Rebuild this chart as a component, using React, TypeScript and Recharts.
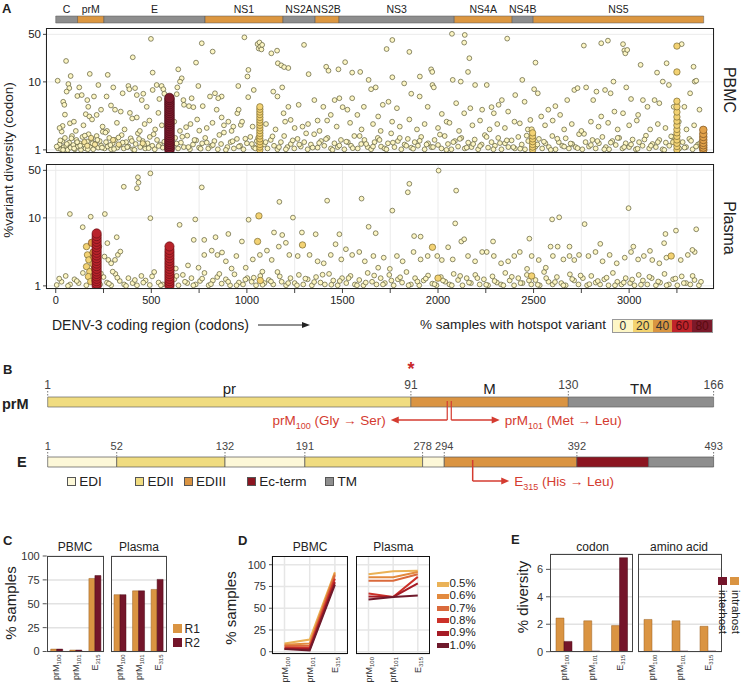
import React from 'react'
import {
  ScatterChart, Scatter, XAxis, YAxis, CartesianGrid, BarChart, Bar, LabelList,
  LineChart, Line, ReferenceArea, ReferenceLine, ReferenceDot
} from 'recharts'

const FONT = '"Liberation Sans", Arial, Helvetica, sans-serif'
const RED = '#d43b30'
const ORANGE = '#da9442'
const MAROON = '#74152a'

// ---------- panel A ----------
const geneNames = ['C', 'prM', 'E', 'NS1', 'NS2A', 'NS2B', 'NS3', 'NS4A', 'NS4B', 'NS5']
const geneEnds = [114, 252, 781, 1189, 1357, 1482, 2085, 2388, 2498, 3390]
const codonTicks = [0, 250, 500, 750, 1000, 1250, 1500, 1750, 2000, 2250, 2500, 2750, 3000, 3250]
const diversityTicks = [1, 10, 50]

const pbmcHigh = [[10,10.4],[54,20.3],[78,12.2],[178,13.1],[272,12.7],[403,23],[498,42.9],[507,13.7],[641,15.3],[659,11.3],[650,10.1],[734,19.2],[764,37],[821,27.9],[987,45.2],[1003,12],[1008,15],[1056,36],[1062,31],[1066,38],[1070,33],[1076,30],[1080,35],[1128,26.3],[1158,28.8],[1162,18.8],[1180,17.5],[1195,16.5],[1217,16],[1299,35],[1323,13],[1415,16.7],[1427,14.6],[1479,15.3],[1514,19.5],[1551,13.7],[1593,14],[1637,10.7],[1731,30.4],[1761,41.3],[1761,11.7],[1850,27.6],[1905,12],[1964,15.3],[1970,14],[2073,50.9],[2077,10.7],[2119,10.1],[2140,49],[2137,37.8],[2164,22.3],[2157,14],[2362,43.3],[2441,10.7],[2510,19.2],[2763,34.2],[2854,37],[2889,40.4],[2918,10.1],[2968,35.9],[2975,29],[2980,26.3],[2990,29.5],[3060,17.8],[3146,13.7],[3176,10.1],[3196,18.8],[3275,35.9],[3337,16.7],[3343,10.1],[3351,10.4]]
const pbmcMid = [[66,9.3],[71,8.1],[57,7.2],[39,5.1],[45,4.6],[48,3.3],[74,2.46],[36,2.25],[31,1.86],[113,6.2],[123,8.3],[165,5.4],[170,4.3],[157,3.35],[176,3.1],[214,3.27],[223,9],[136,6.4],[200,6.1],[266,6.1],[237,3.9],[289,4.5],[301,8.3],[310,3.9],[340,3.66],[350,6.8],[380,8.7],[388,3.5],[385,7.8],[415,8.1],[424,6.4],[424,3.0],[450,5.4],[458,6.7],[476,4.3],[507,7.6],[528,9.0],[542,5.6],[537,3.5],[554,8.7],[563,7.8],[568,6.7],[633,6.6],[636,8.3],[668,5.4],[671,4.6],[682,2.16],[697,4.4],[711,5.75],[720,4.25],[746,8.7],[769,4.4],[751,1.92],[807,6.1],[833,6.8],[842,3.9],[868,6.1],[850,5.75],[868,3.0],[903,2.6],[929,2.2],[950,3.46],[955,8.7],[968,2.33],[957,3.9],[1007,5.96],[1036,7.6],[1138,7.2],[1160,6.1],[1185,8.3],[1192,3.46],[1217,4.3],[1229,2.76],[1271,4.6],[1291,2.2],[1353,5.4],[1370,2.7],[1400,4.3],[1439,3.27],[1459,5.4],[1484,5.75],[1501,4.25],[1526,3.9],[1551,5.75],[1578,3.27],[1612,4.3],[1650,7.8],[1674,8.3],[1687,3.1],[1711,4.6],[1741,5.1],[1785,4.1],[1823,9.5],[1860,6.7],[1904,6.1],[1946,4.3],[1971,9],[1978,8.3],[2020,3.38],[2045,2.6],[2095,4.86],[2137,3.46],[2169,4.1],[2194,9],[2231,3.9],[2255,9],[2280,4.25],[2292,3.46],[2317,4.6],[2334,5.4],[2367,3.66],[2404,6.4],[2428,2.46],[2453,5.1],[2483,2.76],[2503,7.8],[2522,6.8],[2540,3.1],[2577,3.9],[2614,4.4],[2639,3.27],[2676,5.4],[2713,7.6],[2730,8.1],[2775,8.3],[2812,5.4],[2829,7.2],[2854,3.1],[2874,7.6],[2903,6.8],[2923,3.66],[2968,3.46],[2985,8.3],[3010,5.6],[3047,3.27],[3072,5.4],[3096,4.3],[3133,5.4],[3158,4.86],[3208,9],[3233,4.3],[3289,4.3],[3319,6.8],[3368,3.9],
  [20,2.1],[95,2.6],[105,1.9],[145,2.3],[190,2.8],[245,2.2],[260,1.8],[320,2.5],[360,2.0],[400,2.9],[440,1.9],[465,2.4],[490,2.7],[520,2.0],[555,2.3],[620,2.6],[650,1.9],[705,2.4],[740,2.8],[790,2.1],[820,2.5],[880,2.3],[920,1.9],[975,2.6],[1030,2.2],[1100,2.4],[1150,2.0],[1200,2.6],[1250,2.1],[1320,2.4],[1380,1.9],[1420,2.7],[1470,2.2],[1540,2.5],[1600,2.0],[1660,2.4],[1700,1.9],[1760,2.6],[1800,2.2],[1850,2.8],[1890,2.0],[1930,2.4],[2000,2.1],[2060,2.5],[2110,1.9],[2180,2.3],[2220,2.7],[2270,2.0],[2310,2.4],[2350,2.1],[2400,2.6],[2470,2.0],[2560,2.3],[2600,2.7],[2660,2.0],[2700,2.4],[2750,1.9],[2800,2.6],[2840,2.2],[2890,2.5],[2940,2.0],[3000,2.3],[3040,2.7],[3110,2.0],[3150,2.4],[3190,2.1],[3260,2.6],[3300,2.0],[3340,2.3]]
const pbmcLow = [[12,1.05],[20,1.2],[28,1.02],[35,1.35],[42,1.1],[48,1.5],[55,1.15],[62,1.0],[70,1.28],[78,1.08],[85,1.6],[92,1.18],[100,1.02],[108,1.4],[116,1.12],[125,1.25],[132,1.0],[140,1.55],[148,1.2],[156,1.05],[164,1.33],[172,1.7],[180,1.1],[188,1.45],[196,1.02],[205,1.22],[214,1.6],[222,1.08],[230,1.35],[238,1.15],[246,1.85],[255,1.05],[263,1.3],[272,1.12],[280,1.5],[290,1.02],[298,1.25],[310,1.4],[322,1.08],[334,1.18],[345,1.65],[356,1.05],[368,1.3],[380,1.12],[392,1.48],[405,1.02],[418,1.22],[430,1.75],[442,1.1],[455,1.35],[468,1.05],[480,1.25],[492,1.55],[505,1.15],[518,1.02],[530,1.4],[545,1.2],[560,1.08],[575,1.3],[612,1.12],[625,1.5],[640,1.05],[655,1.28],[670,1.1],[688,1.62],[702,1.02],[718,1.2],[735,1.38],[750,1.08],[766,1.25],[782,1.5],[798,1.05],[815,1.15],[830,1.35],[848,1.02],[865,1.22],[880,1.8],[898,1.1],[915,1.3],[932,1.05],[948,1.45],[965,1.15],[982,1.02],[1000,1.25],[1018,1.55],[1035,1.1],[1052,1.35],[1090,1.2],[1108,1.05],[1125,1.4],[1142,1.15],[1160,1.02],[1178,1.3],[1195,1.6],[1212,1.1],[1230,1.22],[1248,1.05],[1265,1.45],[1282,1.12],[1300,1.3],[1318,1.02],[1335,1.2],[1352,1.7],[1370,1.08],[1388,1.35],[1405,1.15],[1422,1.5],[1440,1.05],[1458,1.25],[1475,1.1],[1492,1.4],[1510,1.02],[1528,1.3],[1545,1.15],[1562,1.6],[1580,1.05],[1598,1.22],[1615,1.4],[1632,1.1],[1650,1.02],[1668,1.3],[1685,1.5],[1702,1.12],[1720,1.05],[1738,1.25],[1755,1.75],[1772,1.1],[1790,1.35],[1808,1.02],[1825,1.2],[1842,1.45],[1860,1.08],[1878,1.3],[1895,1.15],[1912,1.55],[1930,1.02],[1948,1.25],[1965,1.1],[1982,1.4],[2000,1.18],[2018,1.05],[2035,1.6],[2052,1.22],[2070,1.02],[2088,1.35],[2105,1.12],[2122,1.5],[2140,1.05],[2158,1.28],[2175,1.1],[2192,1.42],[2210,1.02],[2228,1.2],[2245,1.65],[2262,1.08],[2280,1.3],[2298,1.15],[2315,1.5],[2332,1.02],[2350,1.25],[2368,1.1],[2385,1.38],[2402,1.05],[2420,1.55],[2438,1.2],[2455,1.02],[2472,1.35],[2510,1.12],[2528,1.45],[2545,1.05],[2562,1.25],[2580,1.1],[2598,1.6],[2615,1.02],[2632,1.3],[2650,1.15],[2668,1.48],[2685,1.05],[2702,1.22],[2720,1.1],[2738,1.7],[2755,1.02],[2772,1.3],[2790,1.12],[2808,1.4],[2825,1.05],[2842,1.25],[2860,1.55],[2878,1.1],[2895,1.02],[2912,1.35],[2930,1.18],[2948,1.5],[2965,1.05],[2982,1.25],[3000,1.1],[3018,1.42],[3035,1.02],[3052,1.3],[3070,1.15],[3088,1.62],[3105,1.05],[3122,1.22],[3140,1.1],[3158,1.4],[3175,1.02],[3192,1.28],[3210,1.15],[3228,1.55],[3262,1.05],[3280,1.3],[3298,1.1],[3315,1.45],[3332,1.02],[3360,1.2],[3378,1.08]]
const pbmcLowExtra = [[5,1.12],[24,1.38],[38,1.0],[58,1.22],[82,1.48],[96,1.05],[112,1.3],[128,1.15],[152,1.62],[168,1.02],[192,1.25],[218,1.4],[242,1.08],[268,1.9],[286,1.18],[305,1.03],[328,1.52],[350,1.28],[374,1.1],[398,1.35],[412,1.0],[436,1.45],[462,1.2],[486,1.06],[512,1.7],[538,1.14],[568,1.32],[606,1.02],[632,1.24],[662,1.56],[694,1.1],[726,1.4],[758,1.04],[790,1.28],[822,1.18],[856,1.66],[890,1.0],[925,1.34],[958,1.12],[992,1.46],[1026,1.22],[1044,1.05],[1098,1.3],[1134,1.58],[1168,1.1],[1204,1.02],[1240,1.38],[1274,1.2],[1310,1.75],[1344,1.08],[1378,1.26],[1414,1.44],[1448,1.0],[1484,1.16],[1520,1.32],[1554,1.06],[1590,1.6],[1624,1.22],[1660,1.12],[1694,1.4],[1730,1.02],[1764,1.28],[1800,1.5],[1834,1.15],[1870,1.04],[1904,1.36],[1940,1.2],[1974,1.1],[2010,1.68],[2044,1.0],[2080,1.3],[2114,1.45],[2150,1.08],[2184,1.22],[2220,1.14],[2254,1.55],[2290,1.02],[2324,1.26],[2360,1.38],[2394,1.1],[2430,1.04],[2464,1.62],[2520,1.2],[2554,1.32],[2590,1.0],[2624,1.46],[2660,1.12],[2694,1.24],[2730,1.06],[2764,1.72],[2800,1.18],[2834,1.35],[2870,1.02],[2904,1.28],[2940,1.5],[2974,1.1],[3010,1.2],[3044,1.04],[3080,1.42],[3114,1.15],[3150,1.3],[3184,1.0],[3220,1.58],[3254,1.22],[3290,1.08],[3324,1.36],[3350,1.12],[3372,1.26]]
const pbmcE315Div = [1.0,1.07,1.15,1.23,1.32,1.42,1.53,1.65,1.78,1.92,2.07,2.23,2.4,2.58,2.78,3.0,3.23,3.48,3.75,4.04,4.35,4.7,5.05,5.45,5.8]
const pbmcNs1Div = [1.0,1.1,1.2,1.32,1.45,1.6,1.75,1.92,2.1,2.3,2.52,2.75,3.0,3.3,3.6,3.95,4.3]
const pbmcNs4bDiv = [1.0,1.1,1.2,1.32,1.45,1.6,1.78]
const pbmcNs5Div = [1.0,1.12,1.25,1.4,1.58,1.78,2.0,2.3,2.65,3.05,3.6,4.3,5.2,14,33.6]
const pbmcNs5EndDiv = [1.0,1.08,1.17,1.27,1.4,1.55,1.72,1.97]
const pbmcPale = [[150,1.3],[165,1.15],[185,1.5],[205,1.2],[300,1.4],[330,1.2],[455,1.25],[1060,1.5],[2490,2.0],[3230,1.3]]

const plasmaHigh = [[74,11.4],[183,10.4],[257,11.4],[141,7.3],[319,5.2],[356,28.7],[425,27.3],[430,39.6],[433,33],[495,45.2],[495,9.9],[648,7.9],[730,9.5],[764,28.1],[722,4.75],[777,4.75],[836,5.2],[903,5.8],[1009,9.4],[1142,6.1],[1170,17.2],[1185,5.6],[1241,10.1],[1288,6.1],[1360,5.75],[1420,17.9],[1484,5.75],[1518,3.46],[1600,19.2],[1637,7.4],[1674,5.95],[1761,12.8],[1842,23.8],[1850,31.7],[1875,5.4],[1909,5.3],[2003,49.6],[2095,25.2],[2090,8.3],[2122,4.5],[2137,4.85],[2288,4.5],[2478,4.95],[2597,9.5],[2634,10.2],[2589,3.78],[2688,3.78],[2767,8.1],[2849,4.15],[2997,13.9],[3022,3.78],[3109,3.27],[3183,4.25],[3190,5.8],[3245,6.5],[3351,6.8],[3331,3.38]]
const plasmaMid = [[222,1.76],[228,3.78],[255,2.7],[270,4.25],[275,2.41],[290,2.15],[298,1.62],[310,2.41],[325,2.86],[338,3.2],[628,1.8],[692,2.0],[747,1.85],[777,2.85],[816,3.3],[846,2.85],[870,3.1],[890,2.3],[920,1.8],[945,2.75],[974,4.5],[994,1.85],[1031,2.45],[1068,2.85],[1081,1.62],[1105,3.3],[1130,2.41],[1167,3.78],[1204,4.3],[1222,2.85],[1266,2.75],[1328,2.85],[1370,2.3],[1402,2.15],[1439,2.85],[1464,4.1],[1494,2.45],[1551,2.85],[1588,3.15],[1617,2.3],[1662,2.75],[1687,1.85],[1716,2.6],[1748,1.78],[1785,2.75],[1815,2.3],[1872,3.15],[1909,2.45],[1946,2.75],[1996,2.75],[2020,2.4],[2053,3.7],[2077,2.45],[2157,2.75],[2194,2.3],[2231,3.15],[2255,3.15],[2292,2.75],[2330,2.15],[2367,2.3],[2399,2.75],[2428,3.15],[2466,1.78],[2490,2.75],[2527,2.4],[2564,1.85],[2601,2.75],[2626,3.78],[2656,2.45],[2688,2.75],[2713,2.4],[2738,2.85],[2787,2.75],[2824,3.15],[2861,2.3],[2898,2.85],[2935,2.15],[2977,2.6],[3010,3.15],[3047,2.45],[3077,2.75],[3121,2.4],[3158,2.15],[3195,2.6],[3270,2.4],[3307,2.85],[3343,3.15]]
const plasmaLow = [[5,1.03],[30,1.15],[52,1.4],[75,1.05],[98,1.25],[120,1.1],[142,1.55],[160,1.02],[232,1.05],[250,1.35],[268,1.12],[290,1.02],[312,1.5],[335,1.18],[358,1.05],[380,1.3],[402,1.1],[425,1.02],[448,1.4],[470,1.2],[492,1.03],[515,1.6],[538,1.12],[560,1.05],[620,1.25],[642,1.02],[665,1.45],[688,1.1],[710,1.3],[732,1.05],[755,1.18],[778,1.55],[800,1.02],[822,1.2],[845,1.35],[868,1.08],[890,1.25],[912,1.02],[935,1.48],[958,1.12],[980,1.05],[1002,1.3],[1025,1.15],[1048,1.02],[1070,1.4],[1092,1.1],[1115,1.22],[1138,1.05],[1160,1.6],[1182,1.15],[1205,1.02],[1228,1.3],[1250,1.1],[1272,1.45],[1295,1.05],[1318,1.25],[1340,1.02],[1362,1.35],[1385,1.12],[1408,1.05],[1430,1.5],[1452,1.2],[1475,1.02],[1498,1.3],[1520,1.1],[1542,1.4],[1565,1.05],[1588,1.22],[1610,1.02],[1632,1.55],[1655,1.15],[1678,1.05],[1700,1.3],[1722,1.1],[1745,1.45],[1768,1.02],[1790,1.25],[1812,1.12],[1835,1.6],[1858,1.05],[1880,1.3],[1902,1.02],[1925,1.2],[1948,1.42],[1970,1.08],[1992,1.02],[2015,1.35],[2038,1.15],[2060,1.05],[2082,1.5],[2105,1.22],[2128,1.02],[2150,1.3],[2172,1.1],[2195,1.45],[2218,1.05],[2240,1.25],[2262,1.02],[2285,1.38],[2308,1.12],[2330,1.05],[2352,1.55],[2375,1.2],[2398,1.02],[2420,1.3],[2442,1.1],[2465,1.45],[2488,1.05],[2510,1.22],[2532,1.02],[2555,1.6],[2578,1.15],[2600,1.05],[2622,1.35],[2645,1.1],[2668,1.02],[2690,1.48],[2712,1.2],[2735,1.05],[2758,1.3],[2780,1.02],[2802,1.4],[2825,1.12],[2848,1.05],[2870,1.25],[2892,1.02],[2915,1.55],[2938,1.15],[2960,1.05],[2982,1.3],[3005,1.1],[3028,1.02],[3050,1.45],[3072,1.2],[3095,1.05],[3118,1.3],[3140,1.02],[3162,1.12],[3185,1.5],[3208,1.05],[3230,1.25],[3252,1.02],[3275,1.38],[3298,1.1],[3320,1.05],[3342,1.22],[3365,1.02]]
const plasmaLowExtra = [[18,1.28],[64,1.0],[110,1.18],[236,1.52],[278,1.08],[322,1.32],[368,1.0],[414,1.22],[458,1.12],[504,1.38],[550,1.02],[632,1.4],[676,1.15],[720,1.02],[766,1.28],[812,1.06],[856,1.5],[902,1.15],[946,1.02],[992,1.24],[1036,1.32],[1082,1.04],[1126,1.16],[1172,1.38],[1216,1.1],[1262,1.02],[1306,1.28],[1352,1.14],[1396,1.46],[1442,1.04],[1486,1.18],[1532,1.3],[1576,1.02],[1622,1.12],[1666,1.42],[1712,1.05],[1756,1.2],[1802,1.34],[1846,1.02],[1892,1.16],[1936,1.28],[1982,1.06],[2026,1.2],[2072,1.02],[2116,1.4],[2162,1.12],[2206,1.3],[2252,1.04],[2296,1.18],[2342,1.02],[2386,1.36],[2432,1.1],[2476,1.2],[2522,1.04],[2566,1.3],[2612,1.14],[2656,1.02],[2702,1.26],[2746,1.42],[2792,1.06],[2836,1.18],[2882,1.32],[2926,1.02],[2972,1.12],[3016,1.24],[3062,1.04],[3106,1.36],[3152,1.16],[3196,1.02],[3242,1.28],[3286,1.1],[3332,1.4],[3376,1.15]]
const plasmaYellow = [[1063,10.7],[1056,4.5],[1291,4.0],[1971,3.7],[3220,2.75],[161,3.78],[166,2.86],[173,2.41],[161,1.92],[178,1.62],[171,1.37],[183,1.16],[195,2.1],[200,1.4],[2000,1.3],[2490,1.4],[1070,1.2]]
const plasmaOrange = [[198,3.1],[203,2.6],[205,1.8],[190,4.3],[208,1.2]]
const plasmaPrmDiv = [1.0,1.08,1.17,1.27,1.38,1.5,1.63,1.78,1.95,2.13,2.33,2.55,2.8,3.07,3.37,3.7,4.05,4.45,4.9,5.4,5.9]
const plasmaE315Div = [1.0,1.08,1.17,1.27,1.38,1.5,1.63,1.78,1.95,2.13,2.33,2.55,2.8,3.07,3.37,3.8]

const hotspotLevels = [0, 20, 40, 60, 80]

// ---------- panel B ----------
const prmNames = ['pr', 'M', 'TM']
const prmStarts = [1, 91, 130]
const prmEnds = [91, 130, 166]
const prmTicks = [1, 91, 130, 166]
const eNames = ['EDI', 'EDII', 'EDI', 'EDII', 'EDI', 'EDIII', 'Ec-term', 'TM']
const eStarts = [1, 52, 132, 191, 278, 294, 392, 445]
const eEnds = [52, 132, 191, 278, 294, 392, 445, 493]
const eTicks = [1, 52, 132, 191, 278, 294, 392, 493]
const eLegend = ['EDI', 'EDII', 'EDIII', 'Ec-term', 'TM']

// ---------- panels C, D, E ----------
const sites = ['prM100', 'prM101', 'E315']
const siteBase = ['prM', 'prM', 'E']
const siteSub = ['100', '101', '315']
const cPbmcR1 = [2.5, 1.5, 76.5]
const cPbmcR2 = [2.5, 1.5, 79.5]
const cPlasmaR1 = [59.5, 63.5, 65]
const cPlasmaR2 = [59.5, 63.5, 75.5]
const thresholds = ['0.5%', '0.6%', '0.7%', '0.8%', '0.9%', '1.0%']
const dPbmc = [[9.5, 14, 91.5], [8, 9.5, 90], [6.5, 7, 88], [4.5, 5, 84], [3.5, 3, 80], [3, 1.5, 77]]
const dPlasma = [[89, 92.5, 93], [85.5, 85.5, 91.5], [81.5, 81.5, 89], [67, 63, 86], [63.5, 63, 78.5], [60, 63, 64.5]]
const eCodonIntra = [2.45, 2.25, 1.9]
const eCodonInter = [0.75, 0.05, 6.85]
const eAaIntra = [2.35, 2.25, 1.85]
const eAaInter = [0.05, 0.05, 0.05]

const levelColors = ['#fdf6c6', '#f3d36f', '#d99540', '#c0242b', '#7b1a2b']
const domainColors: Record<string, string> = {
  pr: '#f0dc80', M: ORANGE, TM: '#8e8e8e', EDI: '#fdf8d8', EDII: '#f0dc80', EDIII: ORANGE, 'Ec-term': '#8b1520'
}
const thresholdColors = ['#eab257', '#e38a3e', '#da6a3c', '#cc3129', '#a61b25', '#6f1a2c']

const toPts = (arr: number[][]) => arr.map(([codon, div]) => ({ codon, div }))
const column = (codon: number, vals: number[]) => vals.map((div) => ({ codon, div }))

const dot = (r: number, fill: string, stroke: string) => (p: any) =>
  <circle cx={p.cx} cy={p.cy} r={r} fill={fill} stroke={stroke} strokeWidth={0.7} />

function Txt({ x, y, children, size = 12, anchor = 'start', weight = 400, color = '#222' }: any) {
  const tx = anchor === 'middle' ? '-50%' : anchor === 'end' ? '-100%' : '0'
  return (
    <div style={{ position: 'absolute', left: x, top: y, transform: `translate(${tx},-50%)`, fontSize: size, fontWeight: weight, color, whiteSpace: 'nowrap', lineHeight: 1 }}>
      {children}
    </div>
  )
}

function RotTxt({ x, y, children, size = 14, down = false }: any) {
  return (
    <div style={{ position: 'absolute', left: x, top: y, transform: `translate(-50%,-50%) rotate(${down ? 90 : -90}deg)`, fontSize: size, color: '#222', whiteSpace: 'nowrap', lineHeight: 1 }}>
      {children}
    </div>
  )
}

function Frame({ x, y, w, h, color = '#222' }: any) {
  return <div style={{ position: 'absolute', left: x, top: y, width: w, height: h, border: `1.5px solid ${color}`, boxSizing: 'border-box', pointerEvents: 'none' }} />
}

function SiteTick(p: any) {
  const i = sites.indexOf(p.payload.value)
  return (
    <g transform={`translate(${p.x + 3.2},${p.y + 1})`}>
      <text transform="rotate(-90)" textAnchor="end" fontSize={9} fill="#333">
        {siteBase[i]}<tspan fontSize={6} dy={2}>{siteSub[i]}</tspan>
      </text>
    </g>
  )
}

function GeneBar() {
  const row: any = { row: 'genome' }
  geneNames.forEach((g, i) => { row[g] = geneEnds[i] - (i === 0 ? 0 : geneEnds[i - 1]) })
  return (
    <div style={{ position: 'absolute', left: 0, top: 0 }}>
      <BarChart width={741} height={24} data={[row]} layout="vertical" barCategoryGap={0}
        margin={{ top: 16, right: 27, bottom: 1, left: 46 }}>
        <XAxis type="number" domain={[-51, 3444]} allowDataOverflow hide />
        <YAxis type="category" dataKey="row" hide />
        {geneNames.map((g, i) => (
          <Bar key={g} dataKey={g} stackId="g" fill={i % 2 === 0 ? '#8e8e8e' : '#dc9741'}
            stroke="#555" strokeWidth={0.5} isAnimationActive={false}>
            <LabelList dataKey={g} position="top" offset={3} formatter={() => g} fontSize={10.5} fill="#222" />
          </Bar>
        ))}
      </BarChart>
    </div>
  )
}

function DiversityPanel({ top, showX, normal, pale, yellow, orange, red, darkred }: any) {
  const h = showX ? 150 : 131
  return (
    <div style={{ position: 'absolute', left: 0, top }}>
      <ScatterChart width={741} height={h} margin={{ top: 0, right: 27, bottom: showX ? 0 : 6, left: 0 }}>
        <CartesianGrid stroke="#ebebeb" />
        <XAxis type="number" dataKey="codon" domain={[-51, 3444]} allowDataOverflow ticks={codonTicks} interval={0}
          height={showX ? 25 : 0} tick={showX ? { fontSize: 11, fill: '#222' } : false}
          tickFormatter={(v: number) => (v % 500 === 0 ? String(v) : '')}
          tickSize={showX ? 4 : 0} tickMargin={3} axisLine={false} tickLine={showX ? { stroke: '#444' } : false} />
        <YAxis type="number" dataKey="div" scale="log" domain={[0.9, 62]} allowDataOverflow ticks={diversityTicks}
          interval={0} width={46} tickSize={3} tickMargin={2} axisLine={false}
          tick={{ fontSize: 11.5, fill: '#222' }} tickLine={{ stroke: '#444' }} />
        <Scatter data={normal} shape={dot(2.4, '#fdf6c4', '#5b5a36')} isAnimationActive={false} />
        <Scatter data={pale} shape={dot(2.6, '#f7e6a0', '#6a6338')} isAnimationActive={false} />
        <Scatter data={yellow} shape={dot(3.2, '#f3d273', '#7a6a30')} isAnimationActive={false} />
        <Scatter data={orange} shape={dot(3.8, '#e2a24a', '#7a5020')} isAnimationActive={false} />
        <Scatter data={red} shape={dot(4.6, '#b9232b', '#6a1015')} isAnimationActive={false} />
        <Scatter data={darkred} shape={dot(4.8, '#7d1a2c', '#4a0d18')} isAnimationActive={false} />
      </ScatterChart>
    </div>
  )
}

const arrowShape = (label: React.ReactNode, anchor: 'start' | 'end') => (p: any) => {
  const { x1, y1, x2, y2 } = p
  const dir = Math.sign(x2 - x1) || 1
  return (
    <g>
      <line x1={x1} y1={y1} x2={x2 - dir * 5} y2={y2} stroke={RED} strokeWidth={1.5} />
      <path d={`M${x2},${y2} L${x2 - dir * 8},${y2 - 3.5} L${x2 - dir * 8},${y2 + 3.5} Z`} fill={RED} />
      <text x={x2 + dir * 5} y={y2} dy="0.35em" textAnchor={anchor} fill={RED} fontSize={13.5}>{label}</text>
    </g>
  )
}

const sub = (base: string, s: string, rest: string) => (
  <>
    <tspan>{base}</tspan><tspan fontSize={9} dy={4}>{s}</tspan><tspan dy={-4}>{rest}</tspan>
  </>
)

function PrmDiagram() {
  const pts = prmTicks.map((aa) => ({ aa, y: 20 }))
  return (
    <div style={{ position: 'absolute', left: 0, top: 359 }}>
      <ScatterChart width={741} height={74} margin={{ top: 18, right: 27.4, bottom: 6, left: 47.7 }}>
        <XAxis type="number" dataKey="aa" orientation="top" domain={[1, 166]} allowDataOverflow ticks={prmTicks}
          interval={0} height={20} tickSize={6} tickMargin={2} axisLine={false}
          tickLine={{ stroke: '#777', strokeDasharray: '1.5 1.5' }} tick={{ fontSize: 12, fill: '#444' }} />
        <YAxis type="number" dataKey="y" domain={[0, 30]} allowDataOverflow hide />
        {prmNames.map((n, i) => (
          <ReferenceArea key={n} x1={prmStarts[i]} x2={prmEnds[i]} y1={20} y2={30} fill={domainColors[n]} fillOpacity={1}
            stroke="#666" strokeWidth={0.7} label={{ value: n, position: 'top', offset: 3, fontSize: 15, fill: '#222' }} />
        ))}
        <ReferenceLine segment={[{ x: 100, y: 26 }, { x: 100, y: 7 }]} stroke={RED} strokeWidth={1.2} />
        <ReferenceLine segment={[{ x: 101, y: 26 }, { x: 101, y: 7 }]} stroke={RED} strokeWidth={1.2} />
        <ReferenceLine segment={[{ x: 100, y: 7 }, { x: 86, y: 7 }]} shape={arrowShape(sub('prM', '100', ' (Gly \u2192 Ser)'), 'end')} />
        <ReferenceLine segment={[{ x: 101, y: 7 }, { x: 113, y: 7 }]} shape={arrowShape(sub('prM', '101', ' (Met \u2192 Leu)'), 'start')} />
        <ReferenceDot x={91} y={58} r={0} ifOverflow="visible"
          label={{ value: '*', position: 'center', fill: '#c8282a', fontSize: 18, fontWeight: 700 }} />
        <Scatter data={pts} shape={() => <g />} isAnimationActive={false} />
      </ScatterChart>
    </div>
  )
}

function EDiagram() {
  const pts = eTicks.map((aa) => ({ aa, y: 23 }))
  return (
    <div style={{ position: 'absolute', left: 0, top: 438.7 }}>
      <ScatterChart width={741} height={57} margin={{ top: 2, right: 27.4, bottom: 6, left: 47.7 }}>
        <XAxis type="number" dataKey="aa" orientation="top" domain={[1, 493]} allowDataOverflow ticks={eTicks}
          interval={0} height={16} tickSize={5} tickMargin={2} axisLine={false}
          tickLine={{ stroke: '#777', strokeDasharray: '1.5 1.5' }} tick={{ fontSize: 11, fill: '#444' }} />
        <YAxis type="number" dataKey="y" domain={[0, 33]} allowDataOverflow hide />
        {eNames.map((n, i) => (
          <ReferenceArea key={i} x1={eStarts[i]} x2={eEnds[i]} y1={23} y2={33} fill={domainColors[n]} fillOpacity={1}
            stroke="#555" strokeWidth={0.7} />
        ))}
        <ReferenceLine segment={[{ x: 315, y: 30 }, { x: 315, y: 9 }]} stroke={RED} strokeWidth={1.5} />
        <ReferenceLine segment={[{ x: 315, y: 9 }, { x: 342, y: 9 }]} shape={arrowShape(sub('E', '315', ' (His \u2192 Leu)'), 'start')} />
        <Scatter data={pts} shape={() => <g />} isAnimationActive={false} />
      </ScatterChart>
    </div>
  )
}

function SiteBars({ left, top, width, plotH, yWidth, domain, ticks, a, b, aName, bName, barSize }: any) {
  const data = sites.map((s, i) => ({ site: s, [aName]: a[i], [bName]: b[i] }))
  return (
    <div style={{ position: 'absolute', left, top: top - 8 }}>
      <BarChart width={width} height={plotH + 44} data={data} margin={{ top: 8, right: 0, bottom: 0, left: 0 }}
        barGap={0} barSize={barSize}>
        <CartesianGrid vertical={false} stroke="#e2e2e2" strokeWidth={1.5} />
        <XAxis dataKey="site" tick={<SiteTick />} tickLine={false} axisLine={false} height={36} interval={0} tickSize={0} />
        <YAxis domain={domain} allowDataOverflow ticks={ticks} interval={0} hide={!yWidth} width={yWidth}
          tickSize={4} tickMargin={3} axisLine={false} tick={{ fontSize: 11, fill: '#333' }} tickLine={{ stroke: '#555' }} />
        <Bar dataKey={aName} fill={ORANGE} stroke="#9a6224" strokeWidth={0.5} isAnimationActive={false} />
        <Bar dataKey={bName} fill={MAROON} stroke="#4a0c18" strokeWidth={0.5} isAnimationActive={false} />
      </BarChart>
    </div>
  )
}

function ThresholdLines({ left, width, yWidth, values }: any) {
  const data = sites.map((s, i) => {
    const r: any = { site: s }
    thresholds.forEach((t, k) => { r[t] = values[k][i] })
    return r
  })
  return (
    <div style={{ position: 'absolute', left, top: 556 }}>
      <LineChart width={width} height={134} data={data} margin={{ top: 0, right: 0, bottom: 0, left: 0 }}>
        <CartesianGrid stroke="#e6e6e6" strokeWidth={1.5} />
        <XAxis dataKey="site" padding={{ left: 12.5, right: 12.5 }} tick={<SiteTick />} tickLine={false}
          axisLine={false} height={36} interval={0} tickSize={0} />
        <YAxis domain={[-2.6, 110]} allowDataOverflow ticks={[0, 25, 50, 75, 100]} interval={0} hide={!yWidth}
          width={yWidth} tickSize={3} tickMargin={3} axisLine={false} tick={{ fontSize: 11, fill: '#333' }} tickLine={{ stroke: '#555' }} />
        {thresholds.map((t, k) => (
          <Line key={t} dataKey={t} stroke={thresholdColors[k]} strokeWidth={2} dot={false} isAnimationActive={false} />
        ))}
      </LineChart>
    </div>
  )
}

export default function App() {
  const pbmcNormal = toPts([...pbmcLow, ...pbmcLowExtra, ...pbmcMid, ...pbmcHigh])
  const plasmaNormal = toPts([...plasmaLow, ...plasmaLowExtra, ...plasmaMid, ...plasmaHigh])
  return (
    <div style={{ position: 'absolute', left: 0, top: 0, width: 741, height: 683, background: '#fff', overflow: 'hidden', fontFamily: FONT, color: '#222' }}>
      {/* A */}
      <Txt x={2} y={8} size={13} weight={700}>A</Txt>
      <GeneBar />
      <DiversityPanel top={28} showX={false} normal={pbmcNormal} pale={toPts(pbmcPale)}
        yellow={[...column(1068, pbmcNs1Div), ...column(2495, pbmcNs4bDiv), ...column(3250, pbmcNs5Div)]}
        orange={column(3388, pbmcNs5EndDiv)} red={[]} darkred={column(595, pbmcE315Div)} />
      <DiversityPanel top={164} showX={true} normal={plasmaNormal} pale={[]} yellow={toPts(plasmaYellow)}
        orange={toPts(plasmaOrange)} red={[...column(214, plasmaPrmDiv), ...column(595, plasmaE315Div)]} darkred={[]} />
      <Frame x={46} y={28} w={668} h={125} />
      <Frame x={46} y={164} w={668} h={125} />
      <RotTxt x={9} y={160} size={13.5}>%variant diversity (codon)</RotTxt>
      <RotTxt x={729} y={90} size={16} down>PBMC</RotTxt>
      <RotTxt x={729} y={228} size={16} down>Plasma</RotTxt>
      <Txt x={52} y={325} size={14}>DENV-3 coding region (codons)</Txt>
      <svg style={{ position: 'absolute', left: 256, top: 319 }} width={60} height={12}>
        <line x1={2} y1={6} x2={48} y2={6} stroke="#222" strokeWidth={1.2} />
        <path d="M54,6 L46,3 L46,9 Z" fill="#222" />
      </svg>
      <Txt x={606} y={325} size={13.5} anchor="end">% samples with hotspot variant</Txt>
      <div style={{ position: 'absolute', left: 612, top: 319, display: 'flex', border: '0.5px solid #999' }}>
        {hotspotLevels.map((l, i) => (
          <div key={l} style={{ width: 19.8, height: 12, background: levelColors[i], fontSize: 12, lineHeight: '12px', textAlign: 'center', color: i >= 3 ? '#5a0a10' : '#333' }}>{l}</div>
        ))}
      </div>

      {/* B */}
      <Txt x={3} y={369} size={13} weight={700}>B</Txt>
      <Txt x={2} y={404} size={14.5} weight={700}>prM</Txt>
      <Txt x={17} y={462} size={14.5} weight={700}>E</Txt>
      <PrmDiagram />
      <EDiagram />
      {eLegend.map((n, i) => {
        const bx = [66.7, 135, 183.5, 246.7, 325][i]
        return (
          <React.Fragment key={n}>
            <div style={{ position: 'absolute', left: bx, top: 477, width: 9, height: 9, background: domainColors[n], border: '0.8px solid #555', boxSizing: 'border-box' }} />
            <Txt x={bx + 12.5} y={481.5} size={13.5}>{n}</Txt>
          </React.Fragment>
        )
      })}

      {/* C */}
      <Txt x={3} y={539.5} size={13} weight={700}>C</Txt>
      <Txt x={75} y={547} size={12} anchor="middle">PBMC</Txt>
      <Txt x={139} y={547} size={12} anchor="middle">Plasma</Txt>
      <RotTxt x={10} y={603} size={15}>% samples</RotTxt>
      <SiteBars left={0} top={556} width={104} plotH={95.5} yWidth={46.7} domain={[0, 100]} ticks={[0, 25, 50, 75, 100]}
        a={cPbmcR1} b={cPbmcR2} aName="R1" bName="R2" barSize={6} />
      <SiteBars left={111} top={556} width={55.7} plotH={95.5} yWidth={0} domain={[0, 100]} ticks={[0, 25, 50, 75, 100]}
        a={cPlasmaR1} b={cPlasmaR2} aName="R1" bName="R2" barSize={6} />
      <Frame x={46.7} y={556} w={57.3} h={96} color="#444" />
      <Frame x={111} y={556} w={55.7} h={96} color="#444" />
      <div style={{ position: 'absolute', left: 172.7, top: 624, width: 9, height: 9, background: ORANGE }} />
      <Txt x={184.5} y={628.5} size={12}>R1</Txt>
      <div style={{ position: 'absolute', left: 172.7, top: 638.3, width: 9, height: 9, background: MAROON }} />
      <Txt x={184.5} y={643} size={12}>R2</Txt>

      {/* D */}
      <Txt x={238} y={539.5} size={13} weight={700}>D</Txt>
      <Txt x={310} y={547} size={12} anchor="middle">PBMC</Txt>
      <Txt x={393.3} y={547} size={12} anchor="middle">Plasma</Txt>
      <RotTxt x={230} y={608} size={15}>% samples</RotTxt>
      <ThresholdLines left={232.3} width={115.4} yWidth={40} values={dPbmc} />
      <ThresholdLines left={355.7} width={74.3} yWidth={0} values={dPlasma} />
      <Frame x={272.3} y={556} w={75.4} h={98} color="#111" />
      <Frame x={355.7} y={556} w={74.3} h={98} color="#111" />
      {thresholds.map((t, k) => (
        <React.Fragment key={t}>
          <div style={{ position: 'absolute', left: 436.7, top: 584 + k * 12.3 - 2.5, width: 12, height: 5, background: thresholdColors[k] }} />
          <Txt x={449.5} y={584 + k * 12.3} size={11.5}>{t}</Txt>
        </React.Fragment>
      ))}

      {/* E */}
      <Txt x={511} y={538.5} size={13} weight={700}>E</Txt>
      <Txt x={592.7} y={547.3} size={12} anchor="middle">codon</Txt>
      <Txt x={679} y={547.3} size={12} anchor="middle">amino acid</Txt>
      <RotTxt x={522} y={597} size={15}>% diversity</RotTxt>
      <SiteBars left={510} top={554} width={123.3} plotH={97.7} yWidth={40} domain={[0, 7.12]} ticks={[0, 2, 4, 6]}
        a={eCodonIntra} b={eCodonInter} aName="intrahost" bName="interhost" barSize={8} />
      <SiteBars left={637.7} top={554} width={84} plotH={97.7} yWidth={0} domain={[0, 7.12]} ticks={[0, 2, 4, 6]}
        a={eAaIntra} b={eAaInter} aName="intrahost" bName="interhost" barSize={8} />
      <Frame x={550} y={554} w={83.3} h={98.3} color="#444" />
      <Frame x={637.7} y={554} w={84} h={98.3} color="#444" />
      <div style={{ position: 'absolute', left: 718, top: 576.7, width: 8.7, height: 8.5, background: MAROON }} />
      <div style={{ position: 'absolute', left: 730, top: 576.7, width: 8.5, height: 8.5, background: ORANGE }} />
      <RotTxt x={722} y={612} size={11.5} down>interhost</RotTxt>
      <RotTxt x={735} y={612} size={11.5} down>intrahost</RotTxt>
    </div>
  )
}
